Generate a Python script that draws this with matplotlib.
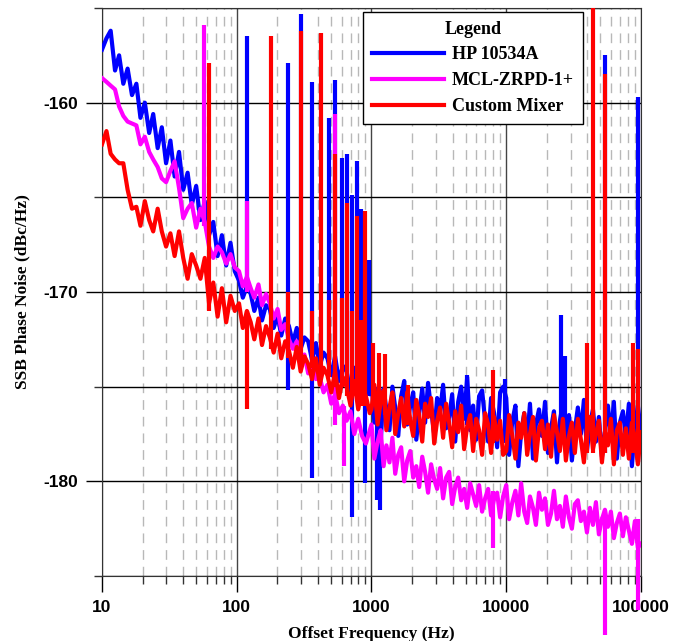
import matplotlib.pyplot as plt
from matplotlib.ticker import LogLocator, NullFormatter

# measurement frequency grid (Hz)
freq_hz = [
    10, 10.8, 11.6, 12.5, 13.4, 14.4, 15.5, 16.7, 18, 19.3, 20.8, 22.4, 24, 25.9, 27.8, 29.9,
    32.2, 34.6, 37.3, 40.1, 43.2, 46.4, 50, 53.8, 57.9, 62.3, 67, 72.1, 77.6, 83.5, 89.9, 96.7,
    104, 111, 119, 127, 135, 145, 154, 165, 176, 188, 201, 214, 229, 244, 261, 279, 298, 318,
    339, 362, 387, 413, 441, 471, 503, 537, 574, 613, 654, 699, 746, 797, 851, 909, 971,
    1000, 1050, 1110, 1170, 1230, 1290, 1360, 1430, 1500, 1580, 1660, 1750, 1840, 1940, 2040,
    2150, 2260, 2380, 2500, 2630, 2770, 2920, 3070, 3230, 3400, 3580, 3770, 3970, 4180, 4400,
    4630, 4870, 5130, 5400, 5680, 5980, 6290, 6620, 6970, 7340, 7720, 8130, 8560, 9010, 9480,
    10000, 10500, 11100, 11700, 12300, 12900, 13600, 14300, 15000, 15800, 16600, 17500, 18400,
    19400, 20400, 21500, 22600, 23800, 25000, 26300, 27700, 29200, 30700, 32300, 34000, 35800,
    37700, 39700, 41800, 44000, 46300, 48700, 51300, 54000, 56800, 59800, 62900, 66200, 69700,
    73400, 77200, 81300, 85600, 90100, 94800, 100000,
]

# SSB phase noise (dBc/Hz)
hp_10534a = [
    -157.2, -156.6, -156.2, -158.3, -157.5, -159.0, -158.2, -159.6, -159.0, -160.8, -160.0, -161.6,
    -160.6, -162.4, -161.3, -163.2, -162.0, -163.9, -162.6, -164.6, -163.7, -165.4, -164.4, -166.2,
    -165.2, -167.0, -166.3, -168.1, -167.0, -168.6, -167.4, -168.9,
    -169.4, -170.3, -169.7, -170.1, -171.0, -170.3, -171.5, -170.7, -170.9, -171.9, -171.2, -172.3,
    -171.4, -171.8, -172.7, -171.9, -173.0, -172.4, -172.6, -173.6, -172.7, -173.9, -173.2, -173.5,
    -174.4, -173.4, -174.7, -173.9, -174.2, -175.3, -174.0, -175.5, -174.6, -174.2, -175.4,
    -174.6, -176.9, -175.4, -178.0, -175.1, -176.2, -177.3, -175.0, -176.1, -177.6, -175.5, -174.7,
    -177.0, -176.0, -175.3, -177.8, -176.4, -175.1, -176.9, -174.8, -176.2, -177.5, -175.6, -176.3,
    -174.9, -177.2, -176.6, -175.4, -177.9, -175.8, -175.0, -176.7, -174.5, -177.3, -176.0, -177.8,
    -175.5, -175.2, -176.8, -177.9, -175.6, -176.4, -178.2, -175.3, -175.0,
    -175.6, -178.6, -176.8, -176.0, -179.2, -177.4, -176.4, -177.9, -175.9, -178.8, -177.0, -176.2,
    -177.6, -175.8, -178.5, -177.2, -176.3, -179.0, -176.8, -175.9, -177.8, -176.5, -178.9, -177.3,
    -176.1, -177.5, -175.7, -178.4, -177.0, -176.2, -177.9, -176.6, -178.7, -177.4, -176.0, -177.6,
    -175.8, -178.8, -176.9, -176.3, -177.7, -175.9, -179.2, -177.1, -176.0, -177.4,
]

mcl_zrpd1 = [
    -158.7, -158.9, -159.1, -159.3, -160.2, -160.7, -161.0, -161.1, -161.2, -162.2, -161.8, -162.6,
    -163.0, -163.4, -164.0, -164.2, -163.6, -163.1, -164.5, -166.1, -165.6, -165.3, -166.6, -165.6,
    -166.3, -167.6, -168.2, -167.6, -167.9, -168.5, -168.0, -168.7,
    -168.9, -169.7, -169.2, -169.8, -170.3, -169.6, -170.7, -170.1, -170.6, -171.4, -170.9, -172.0,
    -171.7, -172.5, -173.0, -172.6, -173.6, -173.3, -174.3, -173.8, -174.6, -174.5, -175.3, -174.9,
    -175.9, -175.4, -176.4, -176.0, -176.8, -176.3, -177.5, -176.7, -177.6, -178.0, -177.3,
    -177.0, -178.8, -177.9, -177.3, -179.2, -178.1, -179.0, -177.7, -179.6, -178.6, -178.2, -180.0,
    -178.9, -178.4, -179.8, -179.2, -180.3, -178.7, -179.5, -180.6, -179.1, -179.9, -180.4, -179.3,
    -180.9, -179.8, -179.5, -181.2, -180.3, -179.8, -181.0, -180.4, -181.4, -180.1, -180.7, -181.3,
    -180.2, -181.6, -180.9, -180.4, -181.8, -180.9, -180.6, -181.9, -180.8,
    -180.2, -182.0, -181.1, -180.5, -181.8, -180.1, -181.6, -182.2, -180.8, -181.4, -182.3, -180.6,
    -181.5, -180.9, -182.3, -181.7, -180.5, -182.0, -181.3, -182.4, -180.8, -181.9, -182.5, -181.2,
    -181.0, -182.1, -181.6, -182.7, -181.4, -182.3, -181.1, -182.8, -182.0, -181.5, -182.4, -181.6,
    -183.0, -182.2, -181.7, -182.9, -181.9, -182.6, -183.3, -182.1, -183.5, -183.3,
]

custom_mixer = [
    -162.2, -161.5, -162.7, -163.0, -163.2, -163.2, -164.6, -165.6, -165.5, -166.5, -165.2, -166.2,
    -166.8, -165.6, -166.8, -167.6, -166.9, -168.1, -166.8, -168.2, -169.3, -168.0, -168.6, -169.3,
    -168.2, -170.6, -169.5, -171.3, -169.8, -171.6, -170.2, -171.0,
    -170.6, -171.9, -171.0, -171.6, -172.5, -171.4, -172.8, -171.8, -172.4, -173.2, -172.2, -173.5,
    -172.6, -173.1, -174.0, -172.9, -174.2, -173.4, -173.8, -174.6, -173.5, -174.9, -174.0, -174.4,
    -175.3, -174.2, -175.6, -174.5, -175.0, -176.0, -174.7, -176.2, -175.1, -175.5, -176.4,
    -176.2, -174.9, -177.0, -175.8, -175.2, -177.3, -176.1, -175.3, -177.5, -176.4, -175.6, -177.1,
    -175.3, -176.8, -177.6, -175.7, -176.5, -177.9, -175.9, -176.6, -175.6, -178.0, -176.8, -176.1,
    -177.7, -175.9, -176.9, -178.2, -176.3, -177.4, -176.0, -178.3, -177.1, -176.5, -178.4, -176.7,
    -177.3, -178.6, -176.4, -177.0, -178.5, -176.6, -177.8, -176.8, -178.6,
    -178.4, -176.5, -177.6, -178.8, -176.9, -177.7, -176.4, -178.6, -177.5, -176.6, -178.9, -177.2,
    -176.8, -178.3, -177.0, -178.7, -176.5, -177.4, -178.4, -176.7, -178.9, -177.6, -176.9, -178.5,
    -176.7, -177.8, -179.0, -177.2, -176.6, -178.3, -177.5, -176.8, -179.0, -177.4, -178.1, -176.7,
    -179.1, -177.3, -176.9, -178.6, -177.2, -178.8, -176.9, -177.7, -179.1, -177.4,
]

# discrete spurs: frequency (Hz), lower end, upper end (dBc/Hz)
hp_spur_hz = [120, 240, 300, 360, 480, 540, 600, 660, 720, 780, 840, 900, 960, 1090, 1160,
              5120, 9800, 25500, 27300, 54000, 94400]
hp_spur_lo = [-170.0, -175.2, -172.5, -179.8, -174.0, -174.0, -174.5, -175.0, -181.9, -175.0,
              -175.0, -180.1, -175.5, -181.0, -181.5, -177.0, -178.0, -178.0, -178.0, -178.5, -179.0]
hp_spur_hi = [-156.5, -157.9, -155.3, -158.9, -160.8, -158.8, -162.9, -162.7, -164.9, -163.1,
              -165.6, -175.0, -168.3, -175.0, -175.5, -174.4, -174.6, -171.2, -173.4, -157.5, -159.7]

mcl_spur_hz = [57, 120, 540, 620, 8000, 54000, 94400]
mcl_spur_lo = [-166.5, -170.0, -177.0, -179.2, -183.5, -188.1, -186.8]
mcl_spur_hi = [-155.9, -165.2, -160.6, -176.0, -180.5, -181.5, -182.0]

cm_spur_hz = [62, 120, 180, 240, 300, 360, 420, 480, 540, 600, 660, 720, 780, 840, 900,
              1020, 1140, 1260, 1860, 8000, 40000, 44000, 54000, 86700, 94400]
cm_spur_lo = [-171.0, -176.2, -173.0, -173.5, -174.0, -174.0, -174.5, -174.5, -175.0, -175.0,
              -175.5, -175.5, -175.5, -176.0, -176.0, -176.0, -176.0, -176.5, -177.0, -178.0,
              -178.5, -178.5, -178.5, -178.5, -179.0]
cm_spur_hi = [-157.9, -171.0, -156.5, -170.0, -156.2, -171.0, -156.3, -170.4, -162.7, -170.3,
              -165.3, -171.0, -166.0, -171.5, -165.7, -172.7, -173.2, -173.3, -174.9, -174.1,
              -172.7, -155.0, -158.5, -172.7, -173.0]

plt.rcParams['font.family'] = 'Liberation Sans'
plt.rcParams['font.weight'] = 'bold'
serif = {'family': 'Liberation Serif', 'weight': 'bold', 'size': 12.5}
serif_leg = {'family': 'Liberation Serif', 'weight': 'bold', 'size': 13}

fig = plt.figure(figsize=(6.83, 6.41), dpi=100)
ax = fig.add_axes([0.1493, 0.1014, 0.7892, 0.8861])

series = [
    ('HP 10534A', hp_10534a, hp_spur_hz, hp_spur_lo, hp_spur_hi, '#0000ff'),
    ('MCL-ZRPD-1+', mcl_zrpd1, mcl_spur_hz, mcl_spur_lo, mcl_spur_hi, '#ff00ff'),
    ('Custom Mixer', custom_mixer, cm_spur_hz, cm_spur_lo, cm_spur_hi, '#ff0000'),
]
for i, (name, vals, sf, slo, shi, col) in enumerate(series):
    z = 3 + i
    ax.plot(freq_hz, vals, color=col, lw=3, label=name, zorder=z)
    ax.vlines(sf, slo, shi, colors=col, lw=3, zorder=z, clip_on=False)

ax.set_xscale('log')
ax.set_xlim(10, 100000)
ax.set_ylim(-185, -155)
ax.set_xticks([10, 100, 1000, 10000, 100000], labels=['10', '100', '1000', '10000', '100000'])
ax.xaxis.set_minor_locator(LogLocator(base=10, subs=(2, 3, 4, 5, 6, 7, 8, 9)))
ax.xaxis.set_minor_formatter(NullFormatter())
ax.set_yticks([-180, -170, -160], labels=['-180', '-170', '-160'])
ax.set_yticks([-185, -175, -165, -155], minor=True)
ax.tick_params(which='major', direction='out', length=11.5, width=1, pad=6, labelsize=12.5)
ax.tick_params(which='minor', direction='out', length=6, width=1, color='#333333')

ax.set_axisbelow(True)
ax.grid(True, which='major', axis='y', color='black', lw=1)
ax.grid(True, which='minor', axis='y', color='black', lw=1)
ax.grid(True, which='major', axis='x', color='#444444', lw=1)
ax.grid(True, which='minor', axis='x', color='#b8b8b8', lw=1, linestyle=(0, (7, 5)))
for sp in ax.spines.values():
    sp.set_color('#333333')

ax.set_xlabel('Offset Frequency (Hz)', fontdict=serif, labelpad=8)
ax.set_ylabel('SSB Phase Noise (dBc/Hz)', fontdict=serif, labelpad=9)

leg = ax.legend(title='Legend', loc='upper right', bbox_to_anchor=(0.892, 0.993),
                borderaxespad=0, prop=serif_leg, title_fontproperties=serif_leg,
                handlelength=4.0, handletextpad=0.4, labelspacing=0.5, borderpad=0.5,
                fancybox=False, framealpha=1, edgecolor='black')
leg._legend_box.sep = 6
leg.get_frame().set_linewidth(1)
leg.set_zorder(10)

fig.savefig('out.png', dpi=100)
